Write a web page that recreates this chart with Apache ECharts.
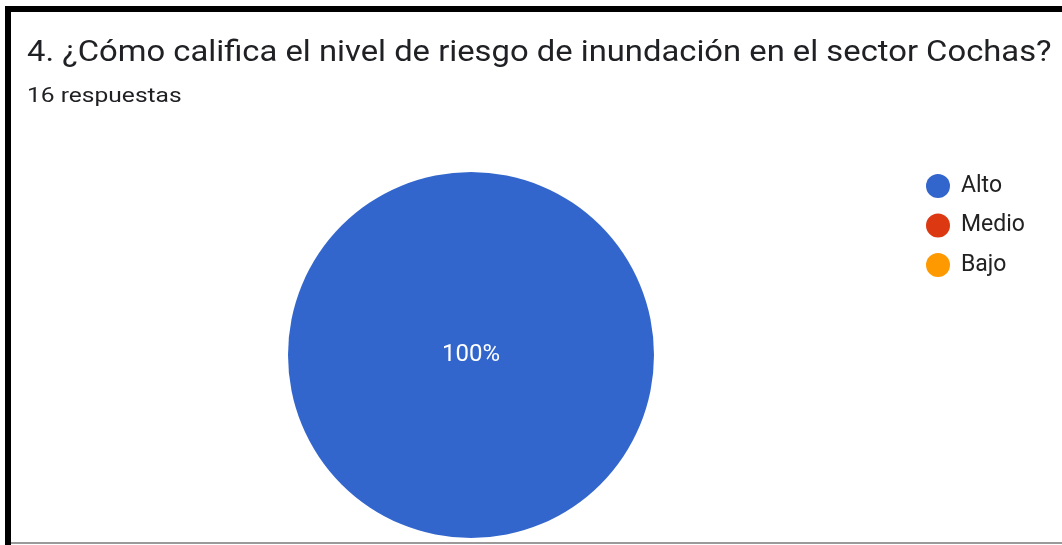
<!DOCTYPE html>
<html><head><meta charset="utf-8">
<script src="https://cdn.jsdelivr.net/npm/echarts@6/dist/echarts.min.js"></script>
<style>
html,body{margin:0;padding:0;background:#fff;width:1062px;height:545px;overflow:hidden;}
#chart{position:absolute;left:0;top:0;width:1062px;height:545px;}
.bl{position:absolute;left:5px;top:6px;width:6px;height:539px;background:#000;}
.bt{position:absolute;left:5px;top:6px;width:1057px;height:6px;background:#000;}
.bb{position:absolute;left:11px;top:542px;width:1051px;height:2px;background:#9a9a9a;}
</style></head>
<body>
<div id="chart"></div>
<div class="bl"></div><div class="bt"></div><div class="bb"></div>
<script>
const titleText = '4. ¿Cómo califica el nivel de riesgo de inundación en el sector Cochas?';
const subtitleText = '16 respuestas';
const categories = ['Alto', 'Medio', 'Bajo'];
const values = [16, 0, 0];
const colors = ['#3366cc', '#dc3912', '#ff9900'];

const chart = echarts.init(document.getElementById('chart'), null, {renderer: 'canvas'});
chart.setOption({
  animation: false,
  color: colors,
  graphic: [{
    type: 'text', x: 27, y: 54, scaleX: 1.13, silent: true,
    style: {text: titleText, fontFamily: 'Roboto', fontSize: 29, fill: '#202124',
            textAlign: 'left', textVerticalAlign: 'middle'}
  }, {
    type: 'text', x: 27, y: 96.5, scaleX: 1.17, silent: true,
    style: {text: subtitleText, fontFamily: 'Roboto', fontSize: 21, fill: '#202124',
            textAlign: 'left', textVerticalAlign: 'middle'}
  }],
  legend: {
    orient: 'vertical', left: 921, top: 169, icon: 'circle',
    itemWidth: 24, itemHeight: 24, itemGap: 15.5,
    textStyle: {fontFamily: 'Roboto', fontSize: 23, color: '#222222', padding: [0, 0, 0, 6]},
    data: categories
  },
  series: [{
    type: 'pie',
    center: [471, 355], radius: 183,
    startAngle: 90, clockwise: true,
    avoidLabelOverlap: false,
    labelLine: {show: false},
    itemStyle: {borderWidth: 0},
    emphasis: {disabled: true},
    label: {
      show: true, position: 'center', color: '#ffffff',
      fontFamily: 'Roboto', fontSize: 24, padding: [12, 0, 0, 0],
      formatter: p => p.value > 0 ? Math.round(p.percent) + '%' : ''
    },
    data: categories.map((c, i) => ({name: c, value: values[i]}))
  }]
});
</script>
</body></html>
